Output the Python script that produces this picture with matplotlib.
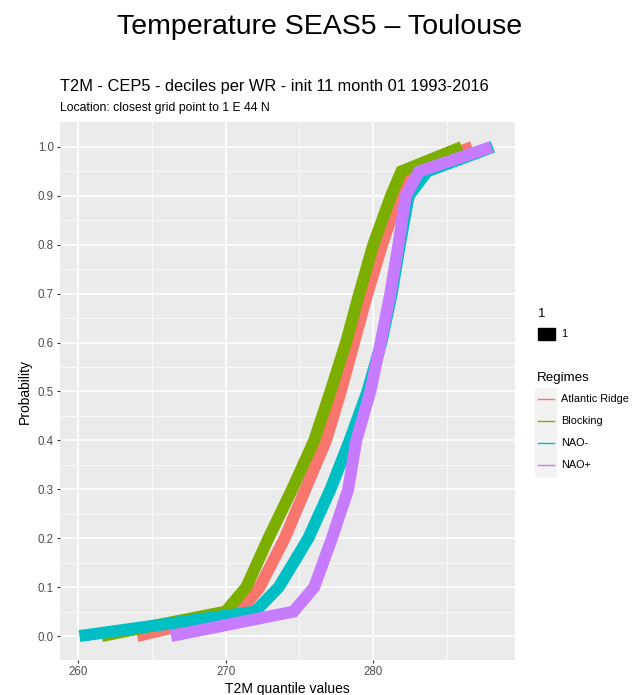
import numpy as np
import matplotlib

matplotlib.use("Agg")
import matplotlib.pyplot as plt
from matplotlib.lines import Line2D
from matplotlib.patches import Rectangle

plt.rcParams["font.family"] = ["Liberation Sans", "DejaVu Sans"]

# decile curves per weather regime (probability vs T2M quantile, K)
PROBS = [0.0, 0.05, 0.1, 0.2, 0.3, 0.4, 0.5, 0.6, 0.7, 0.8, 0.9, 0.95, 1.0]
ATLANTIC_RIDGE = [264.0, 271.0, 272.3, 274.0, 275.4, 276.8, 277.8, 278.7, 279.6, 280.6, 281.7, 282.5, 286.7]
BLOCKING = [261.6, 270.0, 271.4, 272.9, 274.5, 276.0, 277.1, 278.15, 279.05, 280.0, 281.2, 281.9, 286.0]
NAO_MINUS = [260.1, 272.0, 273.6, 275.6, 277.1, 278.4, 279.6, 280.55, 281.25, 281.8, 282.4, 283.65, 288.1]
NAO_PLUS = [266.3, 274.6, 276.0, 277.2, 278.3, 278.85, 279.8, 280.5, 281.15, 281.7, 282.2, 283.1, 288.0]

REGIMES = ["Atlantic Ridge", "Blocking", "NAO-", "NAO+"]
SERIES = [ATLANTIC_RIDGE, BLOCKING, NAO_MINUS, NAO_PLUS]
COLORS = ["#F8766D", "#7CAE00", "#00BFC4", "#C77CFF"]

X_TICKS = [260, 270, 280]
Y_TICKS = [0.0, 0.1, 0.2, 0.3, 0.4, 0.5, 0.6, 0.7, 0.8, 0.9, 1.0]

W, H = 640, 695
fig = plt.figure(figsize=(W / 100, H / 100), dpi=100)
ax = fig.add_axes([60 / W, 1 - 660 / H, 455 / W, 538 / H])

ax.set_facecolor("#EBEBEB")
for s in ax.spines.values():
    s.set_visible(False)

for xs, c in zip(SERIES, COLORS):
    ax.plot(xs, PROBS, color=c, lw=8.6, solid_capstyle="butt",
            solid_joinstyle="miter", zorder=3)

ax.set_xlim(258.78, 289.6)
ax.set_ylim(-0.049, 1.051)
ax.set_xticks(X_TICKS)
ax.set_yticks(Y_TICKS)
ax.set_yticklabels([f"{v:.1f}" for v in Y_TICKS])
ax.set_xticks([265, 275, 285], minor=True)
ax.set_yticks(np.arange(0.05, 1.0, 0.1), minor=True)
ax.grid(which="major", color="white", lw=1.1, zorder=1)
ax.grid(which="minor", color="white", lw=0.5, zorder=1)
ax.set_axisbelow(True)
ax.tick_params(which="major", length=2.5, width=0.8, color="#333333",
               labelsize=8.3, labelcolor="#4D4D4D", pad=2)
ax.tick_params(which="minor", length=0)

ax.set_xlabel("T2M quantile values", fontsize=10, labelpad=3)
ax.set_ylabel("Probability", fontsize=10, labelpad=4)

fig.text(0.5, 1 - 27 / H, "Temperature SEAS5 \u2013 Toulouse", ha="center",
         va="center", fontsize=20.5)
fig.text(60 / W, 1 - 87 / H,
         "T2M - CEP5 - deciles per WR - init 11 month 01 1993-2016",
         ha="left", va="center", fontsize=11.8)
fig.text(60 / W, 1 - 108 / H, "Location: closest grid point to 1 E 44 N",
         ha="left", va="center", fontsize=8.8)

# legends
fig.text(538 / W, 1 - 314 / H, "1", ha="left", va="center", fontsize=9.5)
fig.add_artist(Rectangle((538 / W, 1 - 340 / H), 17 / W, 12 / H,
                         transform=fig.transFigure, color="black"))
fig.text(561 / W, 1 - 334 / H, "1", ha="left", va="center", fontsize=7.8)

fig.text(537 / W, 1 - 378 / H, "Regimes", ha="left", va="center", fontsize=9.6)
for i, (name, c) in enumerate(zip(REGIMES, COLORS)):
    yc = 1 - (399 + 22 * i) / H
    fig.add_artist(Rectangle((535 / W, yc - 11 / H), 21 / W, 22 / H,
                             transform=fig.transFigure, color="#F2F2F2",
                             zorder=1))
    fig.add_artist(Line2D([538 / W, 554 / W], [yc, yc],
                          transform=fig.transFigure, color=c, lw=1.0,
                          zorder=2))
    fig.text(561 / W, yc, name, ha="left", va="center", fontsize=7.8)

fig.savefig("out.png", dpi=100)
